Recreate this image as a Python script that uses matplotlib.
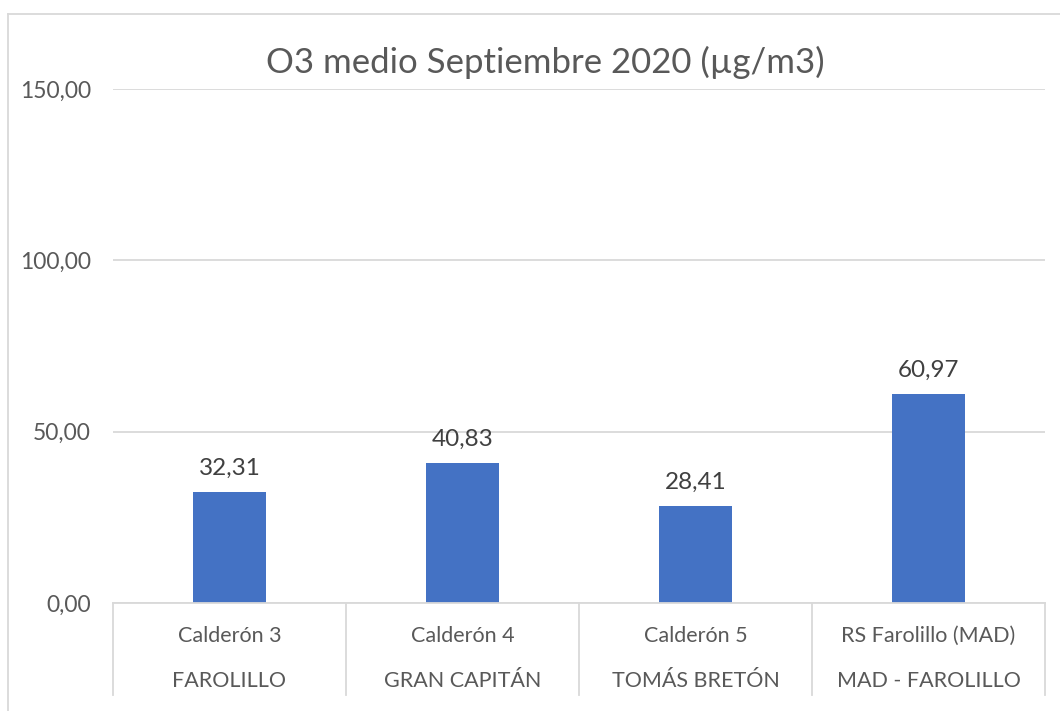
import matplotlib
matplotlib.use('Agg')
import matplotlib.pyplot as plt
from matplotlib.lines import Line2D
from matplotlib.transforms import blended_transform_factory

plt.rcParams['font.family'] = ['Lato', 'DejaVu Sans']

# data
stations = ['Calderón 3', 'Calderón 4', 'Calderón 5', 'RS Farolillo (MAD)']
locations = ['FAROLILLO', 'GRAN CAPITÁN', 'TOMÁS BRETÓN', 'MAD - FAROLILLO']
o3_mean = [32.31, 40.83, 28.41, 60.97]
yticks = [0, 50, 100, 150]

text_col = '#595959'
grid_col = '#D9D9D9'
bar_col = '#4472C4'

fig = plt.figure(figsize=(10.6, 7.11), dpi=100)
ax = fig.add_axes([113/1060, (711-603)/711, (1045-113)/1060, (603-89)/711])

# outer chart border (only top/left visible in the reference)
fig.add_artist(Line2D([8/1060, 8/1060], [0, 1 - 14/711], color=grid_col, lw=1.3))
fig.add_artist(Line2D([8/1060, 1], [1 - 14/711, 1 - 14/711], color=grid_col, lw=1.3))

x = list(range(len(o3_mean)))
bars = ax.bar(x, o3_mean, width=0.31, color=bar_col, zorder=3)

for xi, v in zip(x, o3_mean):
    ax.annotate(f'{v:.2f}'.replace('.', ','), (xi, v), xytext=(0, 13),
                textcoords='offset pixels', ha='center', va='bottom',
                fontsize=17.5, color='#404040')

ax.set_xlim(-0.5, len(o3_mean) - 0.5)
ax.set_ylim(0, 150)
ax.set_yticks(yticks)
ax.set_yticklabels([f'{t:.2f}'.replace('.', ',') for t in yticks],
                   fontsize=16.5, color=text_col)
ax.tick_params(axis='y', length=0, pad=16)
ax.set_xticks([])
ax.grid(axis='y', color=grid_col, lw=1.3, zorder=0)
for s in ax.spines.values():
    s.set_visible(False)

# two level category axis
tr = blended_transform_factory(ax.transData, ax.transAxes)
low = -92/514
ax.add_line(Line2D([-0.5, len(o3_mean) - 0.5], [0, 0], transform=tr,
                   color=grid_col, lw=1.3, clip_on=False, zorder=4))
for b in range(len(o3_mean) + 1):
    ax.add_line(Line2D([b - 0.5, b - 0.5], [0, low], transform=tr,
                       color=grid_col, lw=1.3, clip_on=False))
for xi, st, loc in zip(x, stations, locations):
    ax.text(xi, -33/514, st, transform=tr, ha='center', va='center',
            fontsize=15.5, color=text_col)
    ax.text(xi, -78/514, loc, transform=tr, ha='center', va='center',
            fontsize=15.5, color=text_col)

fig.text(545/1060, 1 - 62/711, 'O3 medio Septiembre 2020 (µg/m3)',
         ha='center', va='center', fontsize=25, color=text_col)

fig.savefig('out.png', dpi=100)
